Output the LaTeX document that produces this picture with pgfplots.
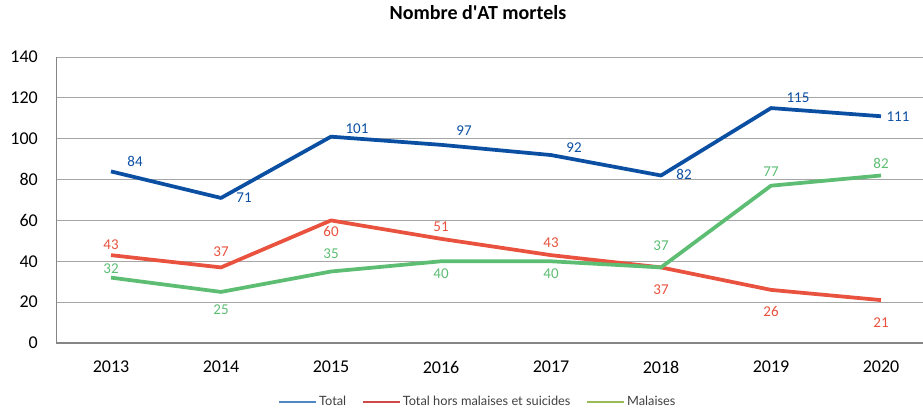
\documentclass[border=0pt]{standalone}
\usepackage{pgfplots}
\pgfplotsset{compat=1.18}
\usepackage{fontspec}
\setmainfont{Carlito}
\newfontfamily\legfont{Lato}
\definecolor{cblue}{HTML}{0B4FA3}
\definecolor{cred}{HTML}{E8523E}
\definecolor{cgreen}{HTML}{5CBD73}
\definecolor{lblue}{HTML}{4F86C6}
\definecolor{lred}{HTML}{D04848}
\definecolor{lgreen}{HTML}{9BBB59}
\definecolor{gridc}{HTML}{A6A6A6}
\definecolor{axc}{HTML}{858585}
\pgfplotstableread{
x y dx dy
0 84 24 10
1 71 23 0
2 101 26 8
3 97 23 14
4 92 23 7
5 82 23 1
6 115 27 10
7 111 17 0
}\total
\pgfplotstableread{
x y dx dy
0 43 0 10
1 37 0 16
2 60 0 -11
3 51 0 12
4 43 0 12.5
5 37 0 -22
6 26 0 -22
7 21 0 -23
}\hors
\pgfplotstableread{
x y dx dy
0 32 0 9
1 25 0 -17.5
2 35 0 17.5
3 40 0 -12
4 40 0 -12
5 37 0 22
6 77 0 14
7 82 0 12.5
}\malaises
\pgfplotsset{
  lbl/.style={
    nodes near coords,
    visualization depends on={\thisrow{dx}\as\mydx},
    visualization depends on={\thisrow{dy}\as\mydy},
    every node near coord/.append style={font=\fontsize{15}{18}\selectfont, anchor=center, inner sep=0pt, xshift=\mydx pt, yshift=\mydy pt, text=#1},
  }
}
\begin{document}
\begin{tikzpicture}
\begin{axis}[
  at={(0,0)}, anchor=south west,
  scale only axis, width=867pt, height=286pt,
  xmin=-0.5, xmax=7.3818, ymin=0, ymax=140,
  xtick={0,1,2,3,4,5,6,7},
  xticklabels={2013,2014,2015,2016,2017,2018,2019,2020},
  ytick={0,20,40,60,80,100,120,140},
  ymajorgrids, grid style={gridc, line width=1pt},
  axis x line*=bottom, axis y line*=left,
  x axis line style={axc, line width=1.6pt, -},
  y axis line style={axc, line width=1pt, -},
  major tick length=0pt, tick style={draw=none},
  /pgf/number format/assume math mode=true,
  xticklabel style={font=\fontsize{18}{20}\selectfont, anchor=north, inner sep=0pt, yshift=-18pt},
  yticklabel style={font=\fontsize{18}{20}\selectfont, anchor=east, inner sep=0pt, xshift=-18pt},
  title={Nombre d\textquotesingle AT mortels},
  title style={font=\bfseries\fontsize{20}{24}\selectfont, at={(0.4867,1)}, anchor=base, yshift=31pt, inner sep=0pt},
  legend style={at={(0.4867,-0.2063)}, anchor=center, draw=none, fill=none,
    font=\legfont\fontsize{12.8}{15}\selectfont, text=black!75, legend columns=3,
    /tikz/every even column/.append style={column sep=14pt}},
  legend cell align=left,
  legend image code/.code={\draw[#1] (0pt,0pt) -- (37pt,0pt);},
]
\addplot[cblue, line width=3.75pt, line join=round, no marks, forget plot, lbl=cblue] table[x=x,y=y] {\total};
\addplot[cred, line width=3.75pt, line join=round, no marks, forget plot, lbl=cred] table[x=x,y=y] {\hors};
\addplot[cgreen, line width=3.75pt, line join=round, no marks, forget plot, lbl=cgreen] table[x=x,y=y] {\malaises};
\addlegendimage{lblue, line width=1.6pt}
\addlegendentry{Total}
\addlegendimage{lred, line width=1.6pt}
\addlegendentry{Total hors malaises et suicides}
\addlegendimage{lgreen, line width=1.6pt}
\addlegendentry{Malaises}
\end{axis}
\pgfresetboundingbox
\useasboundingbox (-56pt,-64pt) rectangle (867pt,343pt);
\end{tikzpicture}
\end{document}
